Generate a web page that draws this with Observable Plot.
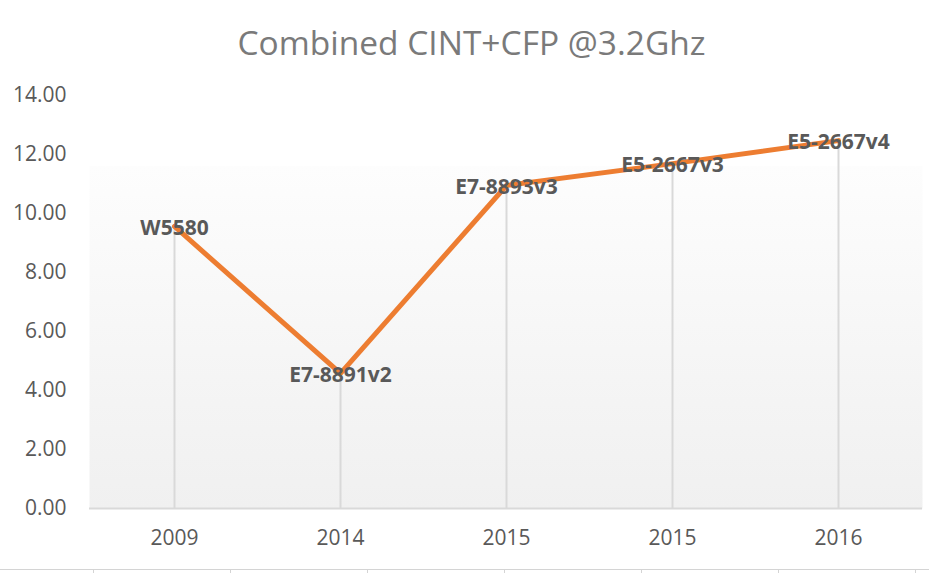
<!DOCTYPE html>
<html><head><meta charset="utf-8">
<script src="https://cdn.jsdelivr.net/npm/d3@7"></script>
<script src="https://cdn.jsdelivr.net/npm/@observablehq/plot@0.6"></script>
<style>
body{margin:0;background:#fff;font-family:"Open Sans",sans-serif;width:929px;overflow:hidden;}
#title{height:60px;box-sizing:border-box;padding-top:22px;padding-left:14px;line-height:40px;text-align:center;font-size:33.5px;color:#7a7a7a;white-space:nowrap;}
#foot{position:relative;height:13px;}
#foot .line{position:absolute;left:0;right:0;top:9px;height:1px;background:#d4d4d4;}
#foot .cols{position:absolute;left:93px;right:0;top:10px;height:3px;background:repeating-linear-gradient(to right,#d4d4d4 0,#d4d4d4 1px,transparent 1px,transparent 137px);}
</style></head>
<body>
<div id="title">Combined CINT+CFP @3.2Ghz</div>
<div id="chart"></div>
<div id="foot"><div class="line"></div><div class="cols"></div></div>
<script>
const years = ["2009", "2014", "2015", "2015", "2016"];
const names = ["W5580", "E7-8891v2", "E7-8893v3", "E5-2667v3", "E5-2667v4"];
const values = [9.56, 4.58, 10.95, 11.69, 12.47];
const yTicks = [0, 2, 4, 6, 8, 10, 12, 14];

const data = years.map((y, i) => ({i, year: y, name: names[i], value: values[i]}));

const chart = Plot.plot({
  width: 929, height: 500,
  marginTop: 35, marginBottom: 52, marginLeft: 89, marginRight: 7,
  style: {fontFamily: "'Open Sans', sans-serif", fontSize: "21px", color: "#595959", background: "transparent", overflow: "visible"},
  x: {type: "point", domain: d3.range(years.length), padding: 0.5, tickFormat: i => years[i], label: null, tickSize: 0, tickPadding: 22},
  y: {domain: [0, 14], ticks: yTicks, tickFormat: d => d.toFixed(2), label: null, tickSize: 0, tickPadding: 23},
  marks: [
    Plot.frame({fill: "url(#bg)", stroke: "none"}),
    Plot.ruleX(data, {x: "i", y1: 0, y2: "value", stroke: "#d9d9d9", strokeWidth: 2}),
    Plot.ruleY([0], {stroke: "#d9d9d9", strokeWidth: 2}),
    Plot.line(data, {x: "i", y: "value", stroke: "#ED7D31", strokeWidth: 5, strokeLinejoin: "round", strokeLinecap: "round"}),
    Plot.text(data, {x: "i", y: "value", text: "name", fontWeight: "bold", fontSize: 21, fill: "#595959", dy: 2})
  ]
});
d3.select(chart).insert("defs", ":first-child").html(
  '<linearGradient id="bg" x1="0" y1="0" x2="0" y2="1">' +
  '<stop offset="0" stop-color="#ffffff"/>' +
  '<stop offset="0.17" stop-color="#ffffff"/>' +
  '<stop offset="0.172" stop-color="#fdfdfd"/>' +
  '<stop offset="1" stop-color="#f0f0f0"/>' +
  '</linearGradient>');
document.getElementById("chart").appendChild(chart);
</script>
</body></html>
